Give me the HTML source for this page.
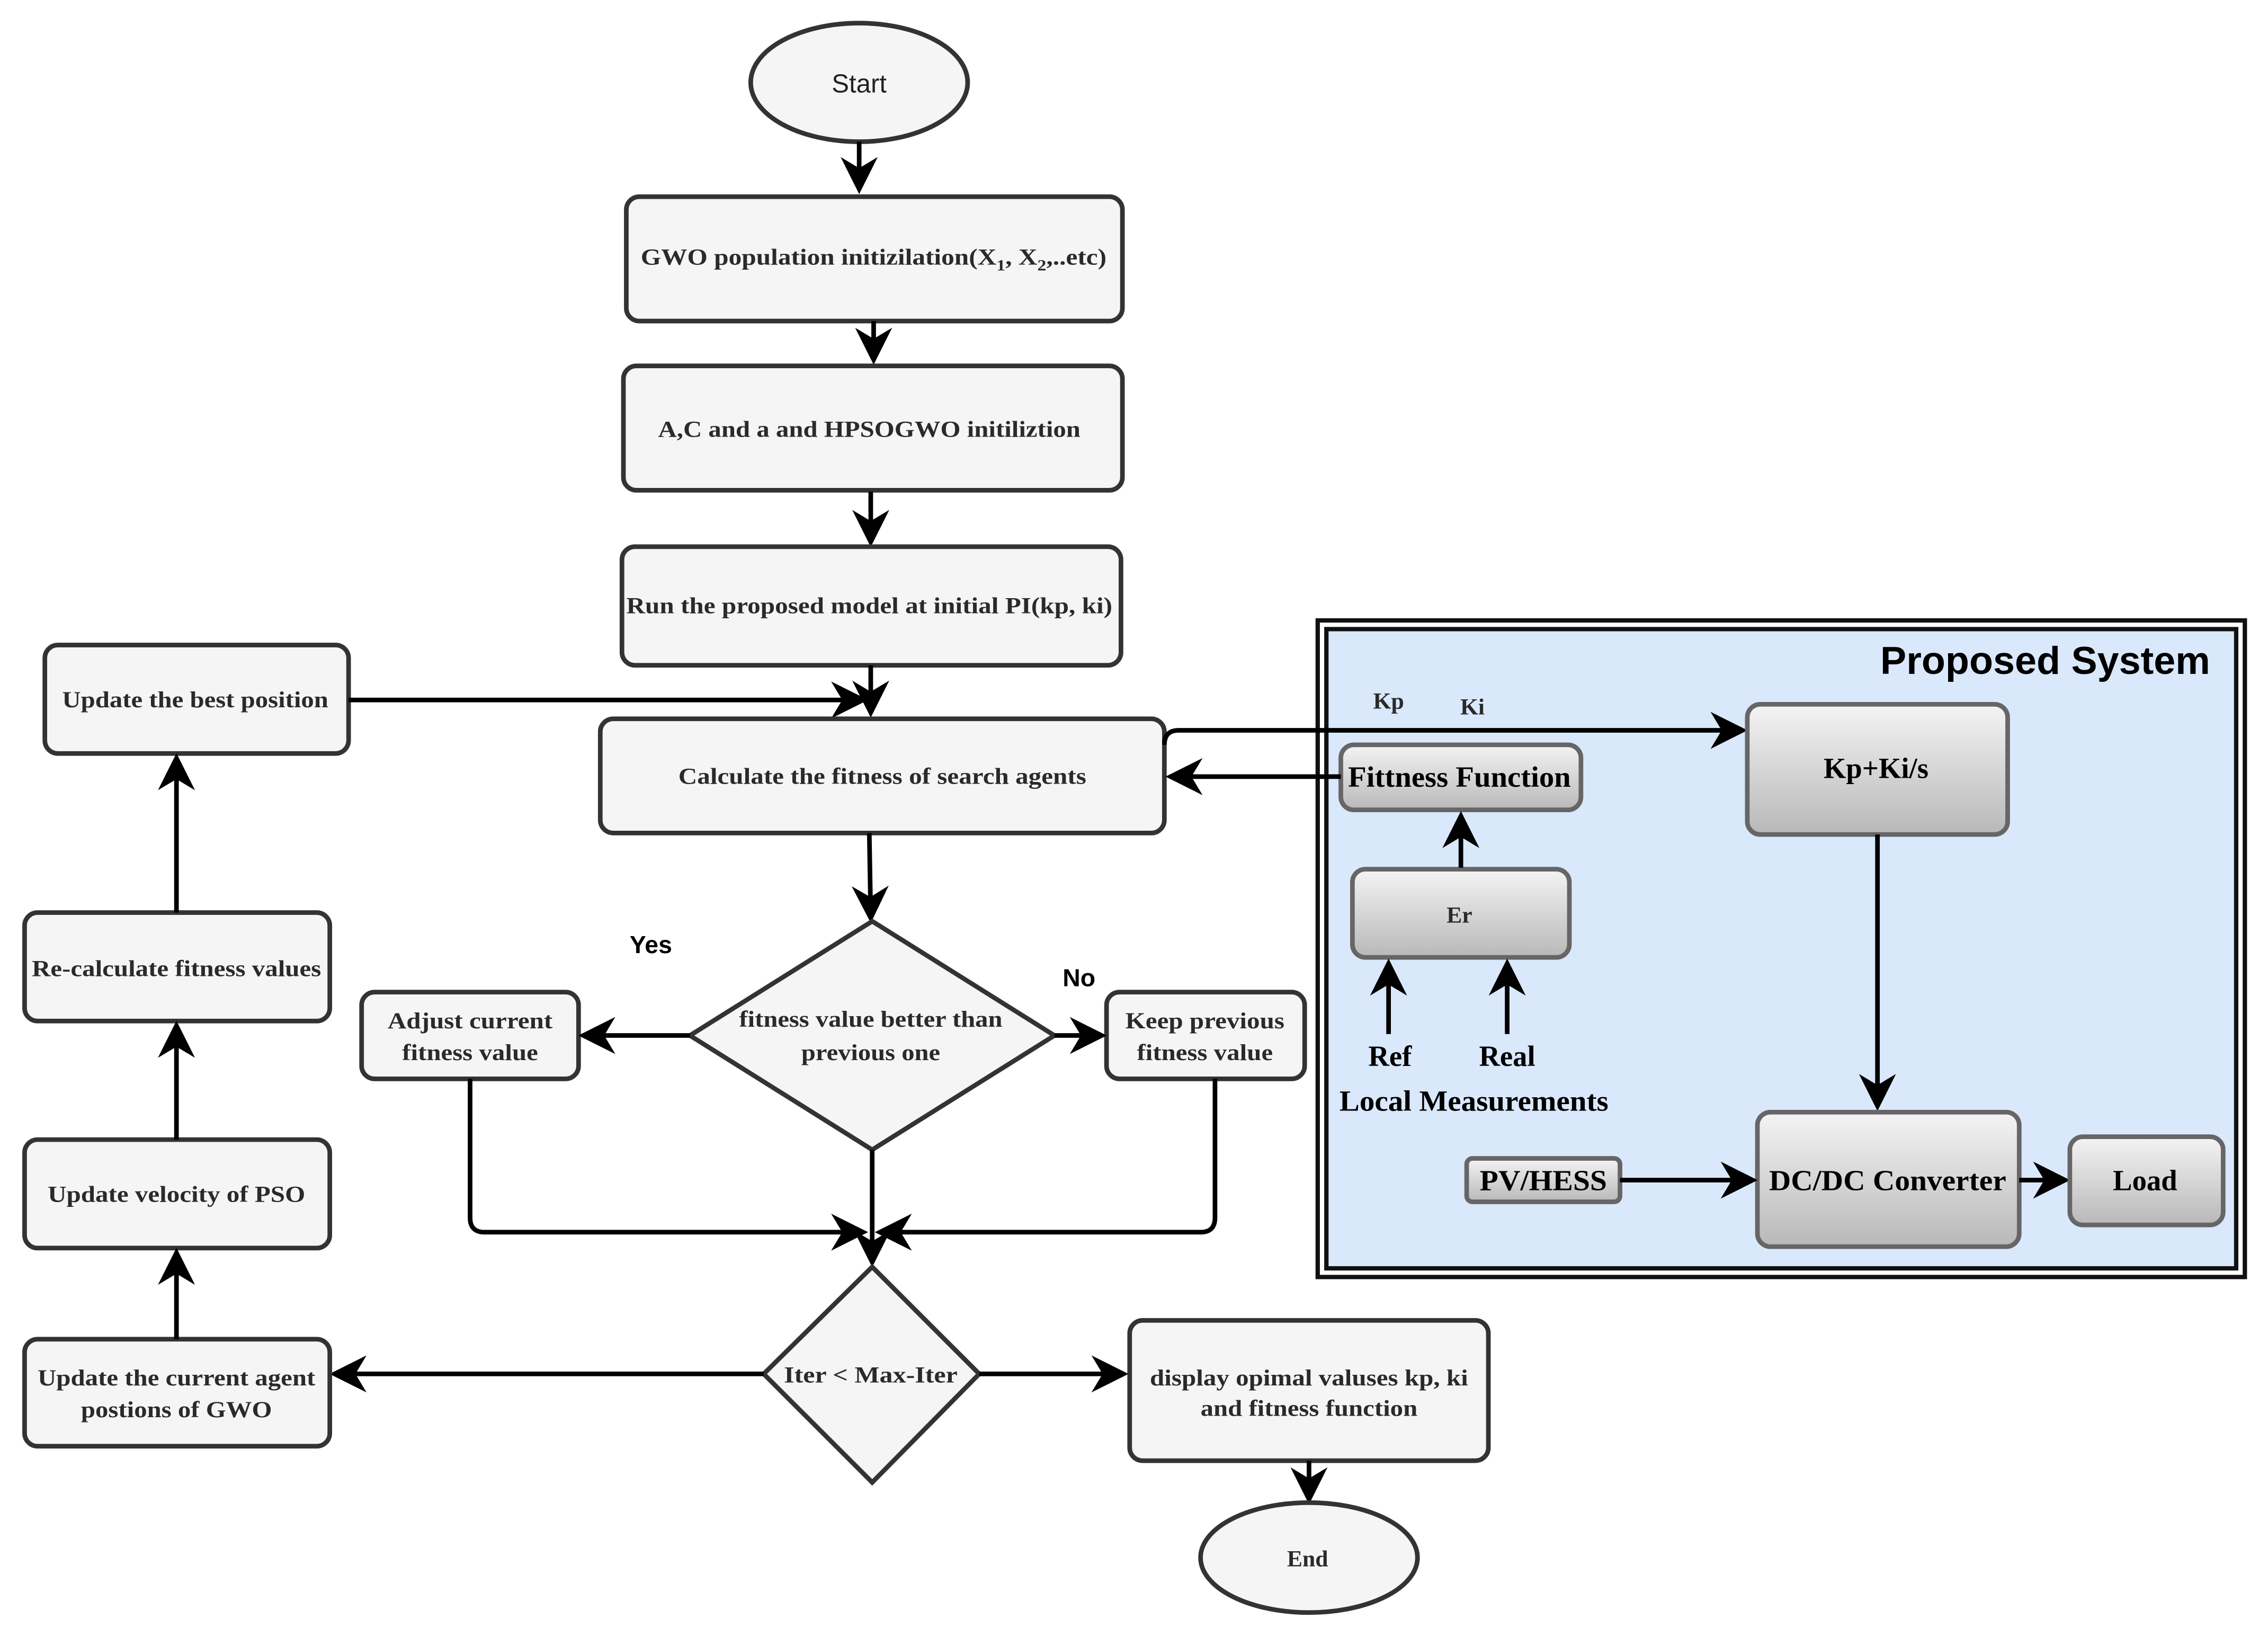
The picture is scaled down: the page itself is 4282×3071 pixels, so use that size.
<!DOCTYPE html>
<html><head><meta charset="utf-8"><style>
html,body{margin:0;padding:0;background:#fff;}
svg{display:block;}
.b{fill:#f5f5f5;stroke:#333;stroke-width:3.2;}
.g{fill:url(#gr);stroke:#666;stroke-width:3.2;}
.t{font-family:"Liberation Serif",serif;font-weight:bold;font-size:16px;fill:#2a2a2a;text-anchor:middle;}
.s{font-family:"Liberation Serif",serif;font-weight:bold;font-size:20px;fill:#000;text-anchor:middle;}
.a{stroke:#000;stroke-width:3.2;fill:none;marker-end:url(#ar);}
.l{stroke:#000;stroke-width:3.2;fill:none;}
</style></head><body>
<svg width="4282" height="3071" viewBox="0 0 1568 1125" preserveAspectRatio="none" xmlns="http://www.w3.org/2000/svg">
<defs>
<marker id="ar" markerWidth="8" markerHeight="8" refX="7" refY="4" orient="auto" markerUnits="strokeWidth" viewBox="0 0 8 8">
<path d="M0,0 L8,4 L0,8 L2.4,4 z" fill="#000"/></marker>
<linearGradient id="gr" x1="0" y1="0" x2="0" y2="1"><stop offset="0" stop-color="#f4f4f4"/><stop offset="1" stop-color="#b8b8b8"/></linearGradient>
</defs>
<rect width="1568" height="1125" fill="#fff"/>

<!-- Proposed system panel -->
<rect x="911" y="429" width="641" height="454" fill="none" stroke="#111" stroke-width="3"/>
<rect x="917" y="435" width="629" height="442" fill="#dae8fc" stroke="#111" stroke-width="3"/>
<text x="1528" y="466" font-family="Liberation Sans,sans-serif" font-weight="bold" font-size="27" text-anchor="end" fill="#000">Proposed System</text>

<!-- flow -->
<ellipse cx="594" cy="57" rx="75" ry="41" class="b"/>
<text x="594" y="64" font-family="Liberation Sans,sans-serif" font-size="18" text-anchor="middle" fill="#222">Start</text>
<path class="a" d="M594,98 L594,131"/>

<rect x="433" y="136" width="343" height="86" rx="9" class="b"/>
<text x="604" y="183" class="t" textLength="322" lengthAdjust="spacingAndGlyphs">GWO population initizilation(X<tspan font-size="11" dy="4">1</tspan><tspan dy="-4">, X</tspan><tspan font-size="11" dy="4">2</tspan><tspan dy="-4">,..etc)</tspan></text>
<path class="a" d="M604,222 L604,249"/>

<rect x="431" y="253" width="345" height="86" rx="9" class="b"/>
<text x="601" y="302" class="t" textLength="292" lengthAdjust="spacingAndGlyphs">A,C and a and HPSOGWO initiliztion</text>
<path class="a" d="M602,340 L602,375"/>

<rect x="430" y="378" width="345" height="82" rx="9" class="b"/>
<text x="601" y="424" class="t" textLength="336" lengthAdjust="spacingAndGlyphs">Run the proposed model at initial PI(kp, ki)</text>
<path class="a" d="M602,460 L602,493"/>

<rect x="31" y="446" width="210" height="75" rx="9" class="b"/>
<text x="135" y="489" class="t" textLength="184" lengthAdjust="spacingAndGlyphs">Update the best position</text>
<path class="a" d="M241,484 L597,484"/>

<rect x="415" y="497" width="390" height="79" rx="9" class="b"/>
<text x="610" y="542" class="t" textLength="282" lengthAdjust="spacingAndGlyphs">Calculate the fitness of search agents</text>
<path class="a" d="M601,576 L602,635"/>

<path d="M603,637 L729,716 L603,795 L477,716 Z" class="b"/>
<text x="602" y="710" class="t" textLength="182" lengthAdjust="spacingAndGlyphs">fitness value better than</text>
<text x="602" y="733" class="t" textLength="96" lengthAdjust="spacingAndGlyphs">previous one</text>
<text x="450" y="659" font-family="Liberation Sans,sans-serif" font-weight="bold" font-size="17" text-anchor="middle">Yes</text>
<text x="746" y="682" font-family="Liberation Sans,sans-serif" font-weight="bold" font-size="17" text-anchor="middle">No</text>

<rect x="250" y="686" width="150" height="60" rx="9" class="b"/>
<text x="325" y="711" class="t" textLength="114" lengthAdjust="spacingAndGlyphs">Adjust current</text>
<text x="325" y="733" class="t" textLength="94" lengthAdjust="spacingAndGlyphs">fitness value</text>
<path class="a" d="M477,716 L403,716"/>

<rect x="765" y="686" width="137" height="60" rx="9" class="b"/>
<text x="833" y="711" class="t" textLength="110" lengthAdjust="spacingAndGlyphs">Keep previous</text>
<text x="833" y="733" class="t" textLength="94" lengthAdjust="spacingAndGlyphs">fitness value</text>
<path class="a" d="M729,716 L762,716"/>

<path class="a" d="M325,746 L325,842 Q325,852 335,852 L597,852"/>
<path class="a" d="M840,746 L840,842 Q840,852 830,852 L608,852"/>
<path class="a" d="M603,795 L603,873"/>

<path d="M603,876 L677,950 L603,1025 L528,950 Z" class="b"/>
<text x="602" y="956" class="t" textLength="120" lengthAdjust="spacingAndGlyphs">Iter &lt; Max-Iter</text>

<path class="a" d="M528,950 L231,950"/>
<path class="a" d="M677,950 L777,950"/>

<rect x="17" y="926" width="211" height="74" rx="9" class="b"/>
<text x="122" y="958" class="t" textLength="192" lengthAdjust="spacingAndGlyphs">Update the current agent</text>
<text x="122" y="980" class="t" textLength="132" lengthAdjust="spacingAndGlyphs">postions of GWO</text>

<rect x="17" y="788" width="211" height="75" rx="9" class="b"/>
<text x="122" y="831" class="t" textLength="178" lengthAdjust="spacingAndGlyphs">Update velocity of PSO</text>

<rect x="17" y="631" width="211" height="75" rx="9" class="b"/>
<text x="122" y="675" class="t" textLength="200" lengthAdjust="spacingAndGlyphs">Re-calculate fitness values</text>

<path class="a" d="M122,926 L122,866"/>
<path class="a" d="M122,788 L122,709"/>
<path class="a" d="M122,631 L122,524"/>

<rect x="781" y="913" width="248" height="97" rx="9" class="b"/>
<text x="905" y="958" class="t" textLength="220" lengthAdjust="spacingAndGlyphs">display opimal valuses kp, ki</text>
<text x="905" y="979" class="t" textLength="150" lengthAdjust="spacingAndGlyphs">and fitness function</text>
<path class="a" d="M905,1010 L905,1037"/>
<ellipse cx="905" cy="1077" rx="75" ry="38" class="b"/>
<text x="904" y="1083" class="t">End</text>

<!-- system internals -->
<path class="a" d="M805,515 Q805,505 815,505 L1205,505"/>
<text x="960" y="490" class="t">Kp</text>
<text x="1018" y="494" class="t">Ki</text>

<rect x="1208" y="487" width="180" height="90" rx="9" class="g"/>
<text x="1297" y="538" class="s">Kp+Ki/s</text>

<rect x="927" y="515" width="166" height="45" rx="9" class="g"/>
<text x="1009" y="544" class="s" textLength="154" lengthAdjust="spacingAndGlyphs">Fittness Function</text>
<path class="a" d="M927,537 L809,537"/>

<rect x="935" y="601" width="150" height="61" rx="9" class="g"/>
<text x="1009" y="638" class="t">Er</text>
<path class="a" d="M1010,600 L1010,564"/>
<path class="a" d="M960,715 L960,666"/>
<path class="a" d="M1042,715 L1042,666"/>
<text x="961" y="737" class="s">Ref</text>
<text x="1042" y="737" class="s">Real</text>
<text x="1019" y="768" class="s" textLength="186" lengthAdjust="spacingAndGlyphs">Local Measurements</text>

<path class="a" d="M1298,577 L1298,765"/>
<rect x="1215" y="769" width="181" height="93" rx="9" class="g"/>
<text x="1305" y="823" class="s" textLength="164" lengthAdjust="spacingAndGlyphs">DC/DC Converter</text>

<rect x="1014" y="801" width="106" height="30" rx="4" class="g"/>
<text x="1067" y="823" class="s" textLength="88" lengthAdjust="spacingAndGlyphs">PV/HESS</text>
<path class="a" d="M1120,816 L1212,816"/>
<path class="a" d="M1396,816 L1428,816"/>
<rect x="1431" y="786" width="106" height="61" rx="9" class="g"/>
<text x="1483" y="823" class="s">Load</text>
</svg>
</body></html>
